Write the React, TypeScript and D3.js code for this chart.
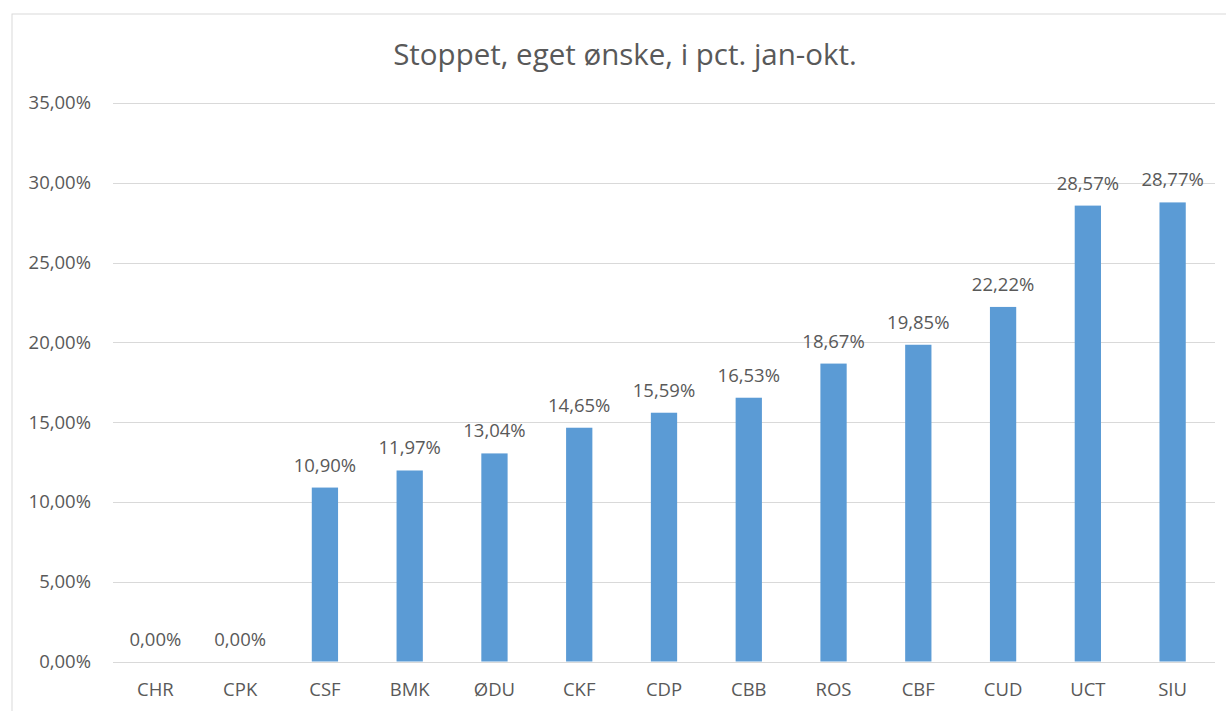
import React, { useEffect, useRef } from 'react';
import * as d3 from 'd3';

const categories = ['CHR', 'CPK', 'CSF', 'BMK', 'ØDU', 'CKF', 'CDP', 'CBB', 'ROS', 'CBF', 'CUD', 'UCT', 'SIU'];
const values = [0, 0, 10.9, 11.97, 13.04, 14.65, 15.59, 16.53, 18.67, 19.85, 22.22, 28.57, 28.77];
const yTicks = [0, 5, 10, 15, 20, 25, 30, 35];
const title = 'Stoppet, eget ønske, i pct. jan-okt.';

const width = 1226;
const height = 711;
const font = '"Open Sans", "DejaVu Sans", sans-serif';
const textColor = '#595959';
const labelSize = '18.5px';

const fmt = (v: number) => v.toFixed(2).replace('.', ',') + '%';

export default function App() {
  const svgRef = useRef<SVGSVGElement>(null);

  useEffect(() => {
    const svg = d3.select(svgRef.current);
    svg.selectAll('*').remove();

    const left = 113;
    const right = 1215;
    const top = 103;
    const bottom = 661.5;

    const x = d3.scaleBand().domain(categories).range([left, right]).paddingInner(0.69).paddingOuter(0.345);
    const y = d3.scaleLinear().domain([0, 35]).range([bottom, top]);

    // frame
    svg
      .append('rect')
      .attr('x', 12)
      .attr('y', 14)
      .attr('width', width + 20)
      .attr('height', height + 20)
      .attr('fill', '#fff')
      .attr('stroke', '#d9d9d9');

    svg
      .append('text')
      .attr('x', 625)
      .attr('y', 65)
      .attr('text-anchor', 'middle')
      .style('font-family', font)
      .style('font-size', '29.5px')
      .style('fill', textColor)
      .text(title);

    // gridlines
    svg
      .append('g')
      .selectAll('line')
      .data(yTicks)
      .enter()
      .append('line')
      .attr('x1', left)
      .attr('x2', right)
      .attr('y1', (d) => Math.round(y(d)) + 0.5)
      .attr('y2', (d) => Math.round(y(d)) + 0.5)
      .attr('stroke', '#d9d9d9')
      .attr('stroke-width', 1);

    svg
      .append('g')
      .selectAll('text')
      .data(yTicks)
      .enter()
      .append('text')
      .attr('x', 91)
      .attr('y', (d) => y(d))
      .attr('dy', '0.35em')
      .attr('text-anchor', 'end')
      .style('font-family', font)
      .style('font-size', labelSize)
      .style('fill', textColor)
      .text((d) => fmt(d));

    svg
      .append('g')
      .selectAll('rect')
      .data(values)
      .enter()
      .append('rect')
      .attr('x', (d, i) => x(categories[i]) as number)
      .attr('y', (d) => y(d))
      .attr('width', x.bandwidth())
      .attr('height', (d) => bottom - y(d))
      .attr('fill', '#5B9BD5');

    svg
      .append('g')
      .selectAll('text')
      .data(values)
      .enter()
      .append('text')
      .attr('x', (d, i) => (x(categories[i]) as number) + x.bandwidth() / 2)
      .attr('y', (d) => y(d) - 16)
      .attr('text-anchor', 'middle')
      .style('font-family', font)
      .style('font-size', labelSize)
      .style('fill', textColor)
      .text((d) => fmt(d));

    svg
      .append('g')
      .selectAll('text')
      .data(categories)
      .enter()
      .append('text')
      .attr('x', (d) => (x(d) as number) + x.bandwidth() / 2)
      .attr('y', 696)
      .attr('text-anchor', 'middle')
      .style('font-family', font)
      .style('font-size', labelSize)
      .style('fill', textColor)
      .text((d) => d);
  }, []);

  return (
    <div style={{ position: 'absolute', left: 0, top: 0 }}>
      <svg ref={svgRef} width={width} height={height} style={{ display: 'block', background: '#fff' }} />
    </div>
  );
}
